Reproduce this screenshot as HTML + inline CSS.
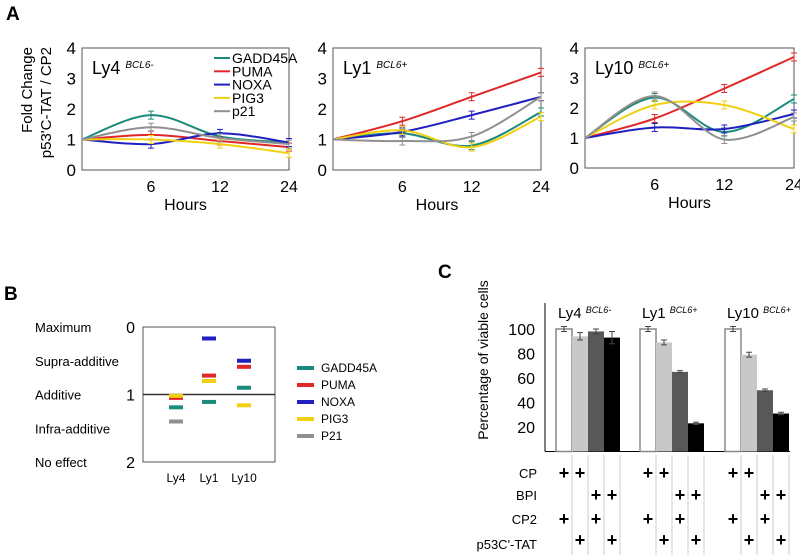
<!DOCTYPE html>
<html><head><meta charset="utf-8"><style>
body{margin:0;background:#fff;}
svg{display:block;font-family:"Liberation Sans",Arial,sans-serif;}
</style></head><body>
<svg id="fig" width="800" height="559" viewBox="0 0 800 559">
<text x="6" y="20" font-size="19" font-weight="bold">A</text>
<text x="4" y="300" font-size="19" font-weight="bold">B</text>
<text x="438" y="278" font-size="19" font-weight="bold">C</text>
<text transform="translate(32,47) rotate(-90)" text-anchor="end" font-size="15">Fold Change</text>
<text transform="translate(51,47) rotate(-90)" text-anchor="end" font-size="15">p53'C-TAT / CP2</text>
</svg>
<script>
const genes=["GADD45A","PUMA","NOXA","PIG3","p21"];
const geneColors=["#1a8a7a","#e02828","#2020c0","#f0d010","#909090"];
const hourTicks=["6","12","24"];
const ly4Series=[[1,1.8,1.1,0.9],[1,1.15,0.95,0.75],[1,0.85,1.2,0.9],[1,1.0,0.85,0.55],[1,1.4,1.05,0.85]];
const ly1Series=[[1,1.2,0.8,1.9],[1,1.6,2.4,3.2],[1,1.25,1.8,2.4],[1,1.3,0.75,1.75],[1,0.95,1.1,2.4]];
const ly10Series=[[1,2.35,1.2,2.3],[1,1.65,2.65,3.7],[1,1.35,1.3,1.8],[1,2.1,2.1,1.3],[1,2.4,0.95,1.7]];
const bCats=["Ly4","Ly1","Ly10"];
const bLegend=["GADD45A","PUMA","NOXA","PIG3","P21"];
const bValues=[[1.19,1.11,0.9],[1.05,0.72,0.59],[null,0.17,0.5],[1.02,0.8,1.16],[1.4,null,null]];
const bLevels=["Maximum","Supra-additive","Additive","Infra-additive","No effect"];
const cGroups=["Ly4","Ly1","Ly10"];
const cSup=["BCL6-","BCL6+","BCL6+"];
const cValues=[[100,94,98,93],[100,89,65,23],[100,79,50,31]];
const cErr=[[2,3,2,5],[2,2,1,1],[2,2,1,1]];
const cTicks=[20,40,60,80,100];
const cRows=["CP","BPI","CP2","p53C'-TAT"];
const cPlus=[[1,1,0,0],[0,0,1,1],[1,0,1,0],[0,1,0,1]];

const NS="http://www.w3.org/2000/svg",svg=document.getElementById('fig');
function mk(t,a,p){const e=document.createElementNS(NS,t);for(const k in a)e.setAttribute(k,a[k]);(p||svg).appendChild(e);return e;}
function txt(x,y,s,fs,anchor,p){const e=mk('text',{x:x,y:y,'font-size':fs,'text-anchor':anchor||'start'},p);e.textContent=s;return e;}
function spline(pts){let d=`M${pts[0][0]},${pts[0][1]}`;for(let i=0;i<pts.length-1;i++){const p0=pts[Math.max(i-1,0)],p1=pts[i],p2=pts[i+1],p3=pts[Math.min(i+2,pts.length-1)];const c1=[p1[0]+(p2[0]-p0[0])/6,p1[1]+(p2[1]-p0[1])/6],c2=[p2[0]-(p3[0]-p1[0])/6,p2[1]-(p3[1]-p1[1])/6];d+=` C${c1[0]},${c1[1]} ${c2[0]},${c2[1]} ${p2[0]},${p2[1]}`;}return d;}

function lineChart(name,x0,x1,y0,y1,series,title,sup,legend){
  const g=mk('g',{});
  const xs=i=>x0+(x1-x0)*i/3, ys=v=>y0-(y0-y1)*v/4;
  mk('rect',{x:x0,y:y1,width:x1-x0,height:y0-y1,fill:'none',stroke:'#555','stroke-width':1},g);
  for(let v=0;v<=4;v++){const t=txt(x0-6,ys(v)+6,String(v),17,'end',g);}
  hourTicks.forEach((h,i)=>{const t=txt(xs(i+1),y0+22,h,16,'middle',g);});
  const ht=txt((x0+x1)/2,y0+40,"Hours",16,'middle',g);
  const tt=mk('text',{x:x0+10,y:y1+26,'font-size':18},g);
  tt.innerHTML=title+' <tspan font-size="10" font-style="italic" dy="-6">'+sup+'</tspan>';
  series.forEach((s,k)=>{const pts=s.map((v,i)=>[xs(i),ys(v)]);
    const p=mk('path',{d:spline(pts),fill:'none',stroke:geneColors[k],'stroke-width':2},g);
    
    pts.forEach((q,i)=>{if(i>0){const e=mk('path',{d:`M${q[0]},${q[1]-4}V${q[1]+4}M${q[0]-3},${q[1]-4}h6M${q[0]-3},${q[1]+4}h6`,stroke:geneColors[k],'stroke-width':1},g);}});
  });
  if(legend){genes.forEach((n,k)=>{const y=y1+14+k*13.3;const l=mk('line',{x1:x0+132,x2:x0+148,y1:y-4,y2:y-4,stroke:geneColors[k],'stroke-width':2},g);const t=txt(x0+150,y+1,n,14,'start',g);});}
}
lineChart('chart-ly4',82,289,170,48,ly4Series,'Ly4','BCL6-',true);
lineChart('chart-ly1',333,541,170,48,ly1Series,'Ly1','BCL6+',false);
lineChart('chart-ly10',585,794,168,48,ly10Series,'Ly10','BCL6+',false);

// Panel B
(function(){
  const g=mk('g',{});
  const x0=143,x1=275,yt=327,yb=462; const ys=v=>yt+(yb-yt)*v/2; const xc=[176,209,244];
  mk('path',{d:`M${x1},${yt}H${x0}V${yb}H${x1}V${yt}`,fill:'none',stroke:'#555'},g);
  mk('line',{x1:x0,x2:x1,y1:ys(1),y2:ys(1),stroke:'#333','stroke-width':1.5},g);
  ["0","1","2"].forEach((s,i)=>{const t=txt(135,ys(i)+6,s,16,'end',g);});
  bLevels.forEach((s,i)=>{const t=txt(35,ys(i*0.5)+5,s,13,'start',g);});
  bCats.forEach((c,i)=>{const t=txt(xc[i],yb+20,c,12,'middle',g);});
  bValues.forEach((row,k)=>row.forEach((v,i)=>{if(v==null)return;const r=mk('rect',{x:xc[i]-7,y:ys(v)-2,width:14,height:4,fill:geneColors[k]},g);}));
  bLegend.forEach((n,k)=>{const y=368+k*17;const r=mk('rect',{x:297,y:y-2,width:17,height:4,fill:geneColors[k]},g);const t=txt(321,y+4,n,12,'start',g);});
})();

// Panel C
(function(){
  const g=mk('g',{});
  const ax=545,yt=303,y0=451.5,k=1.225; const ys=v=>y0-v*k; const gx=[556,640,725],bw=16;
  const fills=['#fff','#c8c8c8','#585858','#000'];
  mk('line',{x1:ax,x2:ax,y1:yt,y2:y0,stroke:'#000'},g);
  mk('line',{x1:ax,x2:790,y1:y0,y2:y0,stroke:'#000'},g);
  cTicks.forEach(v=>{const t=txt(535,ys(v)+6,String(v),16,'end',g);});
  const at=mk('text',{transform:'translate(488,360) rotate(-90)','text-anchor':'middle','font-size':14},g);at.textContent='Percentage of viable cells';
  cGroups.forEach((n,i)=>{const t=mk('text',{x:gx[i]+2,y:318,'font-size':15},g);t.innerHTML=n+' <tspan font-size="9" font-style="italic" dy="-5">'+cSup[i]+'</tspan>';
    cValues[i].forEach((v,j)=>{const x=gx[i]+j*bw;const r=mk('rect',{x:x,y:ys(v),width:bw,height:y0-ys(v),fill:fills[j],stroke:j==0?'#888':'none','stroke-width':1.5},g);
      const e=cErr[i][j],cx=x+bw/2;const eb=mk('path',{d:`M${cx},${ys(v+e)}V${ys(v-e)}M${cx-3},${ys(v+e)}h6M${cx-3},${ys(v-e)}h6`,stroke:'#444','stroke-width':1},g);
      mk('line',{x1:x+bw,x2:x+bw,y1:455,y2:555,stroke:'#ccc','stroke-width':1},g);
    });
  });
  const rowY=[478,500,524,549];
  cRows.forEach((r,ri)=>{const t=txt(537,rowY[ri],r,13,'end',g);
    cGroups.forEach((n,i)=>cPlus[ri].forEach((p,j)=>{if(!p)return;const s=txt(gx[i]+j*bw+bw/2,rowY[ri]+(ri==3?-3:1),'+',18,'middle',g);s.setAttribute('font-weight','bold');}));
  });
})();
</script>
</body></html>
